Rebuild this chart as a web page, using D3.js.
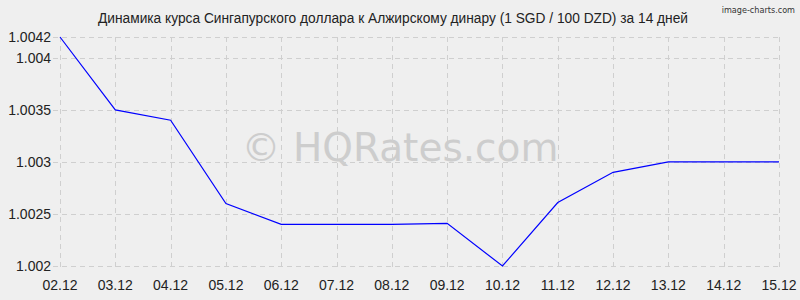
<!DOCTYPE html>
<html>
<head>
<meta charset="utf-8">
<style>
  body { margin: 0; background: #efefef; }
  svg { display: block; font-family: "Liberation Sans", Arial, sans-serif; }
  .grid line { stroke: #cfcfcf; stroke-width: 1px; stroke-dasharray: 5,4; }
</style>
</head>
<body>
<div id="chart"></div>
<script src="https://d3js.org/d3.v7.min.js"></script>
<script>
  var dates = ["02.12", "03.12", "04.12", "05.12", "06.12", "07.12", "08.12",
               "09.12", "10.12", "11.12", "12.12", "13.12", "14.12", "15.12"];
  var rates = [1.0042, 1.0035, 1.00340, 1.0026, 1.0024, 1.0024, 1.0024,
               1.00241, 1.0020, 1.00261, 1.0029, 1.0030, 1.0030, 1.0030];
  var yTicks = [1.002, 1.0025, 1.003, 1.0035, 1.004, 1.0042];
  var title = "Динамика курса Сингапурского доллара к Алжирскому динару (1 SGD / 100 DZD) за 14 дней";

  var width = 800, height = 300;
  var margin = {top: 37, right: 21, bottom: 34, left: 60};

  var svg = d3.select("#chart").append("svg")
    .attr("width", width)
    .attr("height", height);

  svg.append("rect").attr("width", width).attr("height", height).attr("fill", "#efefef");

  var x = d3.scalePoint()
    .domain(dates)
    .range([margin.left, width - margin.right]);

  var y = d3.scaleLinear()
    .domain([1.002, 1.0042])
    .range([height - margin.bottom, margin.top]);

  // watermark
  svg.append("text")
    .attr("x", 400)
    .attr("y", 161)
    .attr("text-anchor", "middle")
    .style("font-family", "'DejaVu Sans', Verdana, sans-serif")
    .style("font-size", "39px")
    .attr("fill", "#cdcdcd")
    .text("© HQRates.com");

  // grid
  var grid = svg.append("g").attr("class", "grid");
  grid.selectAll("line.h")
    .data(yTicks)
    .enter().append("line")
    .attr("class", "h")
    .attr("x1", margin.left - 7)
    .attr("x2", width - margin.right)
    .attr("y1", function(d) { return Math.round(y(d)) + 0.5; })
    .attr("y2", function(d) { return Math.round(y(d)) + 0.5; });
  grid.selectAll("line.v")
    .data(dates)
    .enter().append("line")
    .attr("class", "v")
    .attr("x1", function(d) { return Math.round(x(d)) + 0.5; })
    .attr("x2", function(d) { return Math.round(x(d)) + 0.5; })
    .attr("y1", margin.top)
    .attr("y2", height - margin.bottom + 5);

  // y labels
  svg.selectAll("text.ylab")
    .data(yTicks)
    .enter().append("text")
    .attr("class", "ylab")
    .attr("x", 51)
    .attr("y", function(d) { return y(d) + 5; })
    .attr("text-anchor", "end")
    .style("font-size", "14px")
    .attr("fill", "#222")
    .text(function(d) { return String(+d.toFixed(4)); });

  // x labels
  svg.selectAll("text.xlab")
    .data(dates)
    .enter().append("text")
    .attr("class", "xlab")
    .attr("x", function(d) { return x(d); })
    .attr("y", 290)
    .attr("text-anchor", "middle")
    .style("font-size", "14px")
    .attr("fill", "#222")
    .text(function(d) { return d; });

  // line
  var line = d3.line()
    .x(function(d, i) { return x(dates[i]); })
    .y(function(d) { return y(d); });

  svg.append("path")
    .datum(rates)
    .attr("d", line)
    .attr("fill", "none")
    .attr("stroke", "#0000ff")
    .attr("stroke-width", 1.2);

  // title
  svg.append("text")
    .attr("x", 393)
    .attr("y", 23)
    .attr("text-anchor", "middle")
    .style("font-size", "14px")
    .attr("textLength", 590)
    .attr("lengthAdjust", "spacingAndGlyphs")
    .attr("fill", "#222")
    .text(title);

  svg.append("text")
    .attr("x", 795)
    .attr("y", 13)
    .attr("text-anchor", "end")
    .style("font-family", "'DejaVu Sans Condensed', 'DejaVu Sans', sans-serif")
    .style("font-size", "9px")
    .attr("fill", "#333")
    .text("image-charts.com");
</script>
</body>
</html>
